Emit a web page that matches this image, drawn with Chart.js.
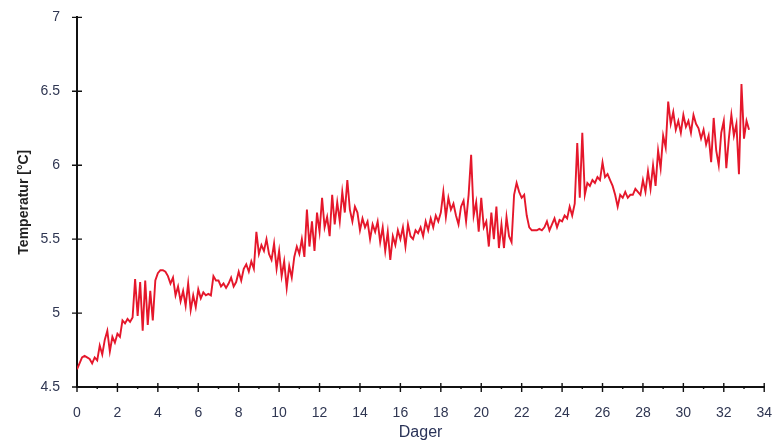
<!DOCTYPE html>
<html>
<head>
<meta charset="utf-8">
<script src="https://cdn.jsdelivr.net/npm/chart.js@4"></script>
<style>
  html, body { margin: 0; padding: 0; background: #fff; }
  #wrap { width: 782px; height: 446px; }
</style>
</head>
<body>
<div id="wrap"><canvas id="chart"></canvas></div>
<script>
// readings every 3 hours (0.125 day), starting at day 0
const stepDays = 0.125;
const temps = [
  4.62, 4.66, 4.70, 4.71, 4.70, 4.69, 4.66, 4.70,
  4.68, 4.78, 4.72, 4.82, 4.88, 4.74, 4.84, 4.80,
  4.86, 4.84, 4.95, 4.93, 4.96, 4.94, 4.97, 5.23,
  4.98, 5.21, 4.88, 5.22, 4.92, 5.15, 4.95, 5.22,
  5.27, 5.29, 5.29, 5.28, 5.25, 5.20, 5.24, 5.12,
  5.18, 5.08, 5.15, 5.05, 5.20, 5.02, 5.12, 5.04,
  5.16, 5.10, 5.14, 5.12, 5.13, 5.12, 5.25, 5.22,
  5.22, 5.18, 5.20, 5.17, 5.20, 5.24, 5.18, 5.21,
  5.28, 5.22, 5.30, 5.33, 5.28, 5.35, 5.30, 5.55,
  5.40, 5.46, 5.42, 5.50, 5.40, 5.36, 5.47, 5.30,
  5.42, 5.25, 5.35, 5.17, 5.32, 5.24, 5.38, 5.45,
  5.40, 5.50, 5.38, 5.70, 5.45, 5.62, 5.42, 5.68,
  5.55, 5.78, 5.58, 5.65, 5.52, 5.80, 5.60, 5.75,
  5.62, 5.82, 5.68, 5.90, 5.70, 5.62, 5.72, 5.68,
  5.56, 5.64, 5.58, 5.62, 5.50, 5.60, 5.55, 5.62,
  5.48, 5.58, 5.42, 5.55, 5.36, 5.52, 5.46, 5.56,
  5.50, 5.58, 5.45, 5.60, 5.52, 5.50, 5.56, 5.54,
  5.58, 5.52, 5.62, 5.56, 5.64, 5.58, 5.66, 5.62,
  5.68, 5.82, 5.65, 5.78, 5.70, 5.74, 5.66, 5.60,
  5.72, 5.76, 5.62, 5.80, 6.07, 5.66, 5.75, 5.55,
  5.78, 5.58, 5.62, 5.45, 5.68, 5.50, 5.72, 5.44,
  5.60, 5.44, 5.65, 5.52, 5.48, 5.80, 5.88, 5.82,
  5.78, 5.80, 5.66, 5.58, 5.56, 5.56, 5.56, 5.57,
  5.56, 5.58, 5.62, 5.56, 5.60, 5.64, 5.58, 5.63,
  5.62, 5.66, 5.64, 5.72, 5.66, 5.74, 6.15, 5.78,
  6.22, 5.80, 5.88, 5.86, 5.90, 5.88, 5.92, 5.90,
  6.02, 5.92, 5.94, 5.90, 5.86, 5.80, 5.72, 5.80,
  5.78, 5.82, 5.78, 5.80, 5.80, 5.84, 5.82, 5.80,
  5.90, 5.82, 5.96, 5.84, 6.00, 5.86, 6.10, 5.98,
  6.20, 6.12, 6.43, 6.28, 6.36, 6.24, 6.30, 6.22,
  6.34, 6.26, 6.30, 6.22, 6.34, 6.28, 6.25, 6.18,
  6.24, 6.14, 6.20, 6.02, 6.32, 6.10, 6.00, 6.22,
  6.30, 5.98, 6.18, 6.34, 6.20, 6.28, 5.94, 6.55,
  6.18, 6.30, 6.24
];
const xTicks = [0, 2, 4, 6, 8, 10, 12, 14, 16, 18, 20, 22, 24, 26, 28, 30, 32, 34];
const yTicks = [4.5, 5, 5.5, 6, 6.5, 7];

const points = temps.map((t, i) => ({ x: i * stepDays, y: t }));
const labelColor = "#2f3652";

// axis tick marks crossing the axis lines
const axisTicks = {
  id: "axisTicks",
  afterDraw(chart) {
    const { ctx, scales: { x, y } } = chart;
    ctx.save();
    ctx.strokeStyle = "#111";
    ctx.lineWidth = 1.4;
    ctx.beginPath();
    for (let d = 0; d <= 34; d++) {
      const px = x.getPixelForValue(d);
      if (xTicks.includes(d)) {
        ctx.moveTo(px, y.bottom - 4);
        ctx.lineTo(px, y.bottom + 5);
      } else {
        ctx.moveTo(px, y.bottom);
        ctx.lineTo(px, y.bottom + 2);
      }
    }
    yTicks.forEach(v => {
      const py = y.getPixelForValue(v);
      ctx.moveTo(x.left - 5, py);
      ctx.lineTo(x.left + 5, py);
    });
    ctx.stroke();
    ctx.restore();
  }
};

new Chart(document.getElementById("chart"), {
  type: "line",
  data: {
    datasets: [{
      label: "Temperatur",
      data: points,
      borderColor: "#e5172b",
      borderWidth: 1.9,
      pointRadius: 0,
      tension: 0,
      fill: false
    }]
  },
  options: {
    responsive: true,
    maintainAspectRatio: false,
    animation: false,
    layout: { padding: { top: 15, right: 11, left: 0, bottom: 0 } },
    plugins: { legend: { display: false }, tooltip: { enabled: false } },
    scales: {
      x: {
        type: "linear",
        min: 0,
        max: 34,
        afterBuildTicks: s => { s.ticks = xTicks.map(v => ({ value: v })); },
        afterFit: s => { s.height = 59; },
        grid: { display: false },
        border: { display: true, color: "#111", width: 2 },
        ticks: {
          padding: 10,
          color: labelColor,
          font: { family: "Liberation Sans", size: 14 },
          maxRotation: 0,
          autoSkip: false
        },
        title: {
          display: true,
          text: "Dager",
          color: "#2a3358",
          font: { family: "Liberation Sans", size: 16 },
          padding: { top: 0, bottom: 4 }
        }
      },
      y: {
        min: 4.5,
        max: 7,
        afterBuildTicks: s => { s.ticks = yTicks.map(v => ({ value: v })); },
        afterFit: s => { s.width = 77; },
        grid: { display: false },
        border: { display: true, color: "#111", width: 2 },
        ticks: {
          padding: 9,
          color: labelColor,
          font: { family: "Liberation Sans", size: 14 },
          callback: v => v
        },
        title: {
          display: true,
          text: "Temperatur [°C]",
          color: "#222",
          font: { family: "Liberation Sans", size: 14, weight: "bold" },
          padding: { top: 16, bottom: 0 }
        }
      }
    }
  },
  plugins: [axisTicks]
});
</script>
</body>
</html>
